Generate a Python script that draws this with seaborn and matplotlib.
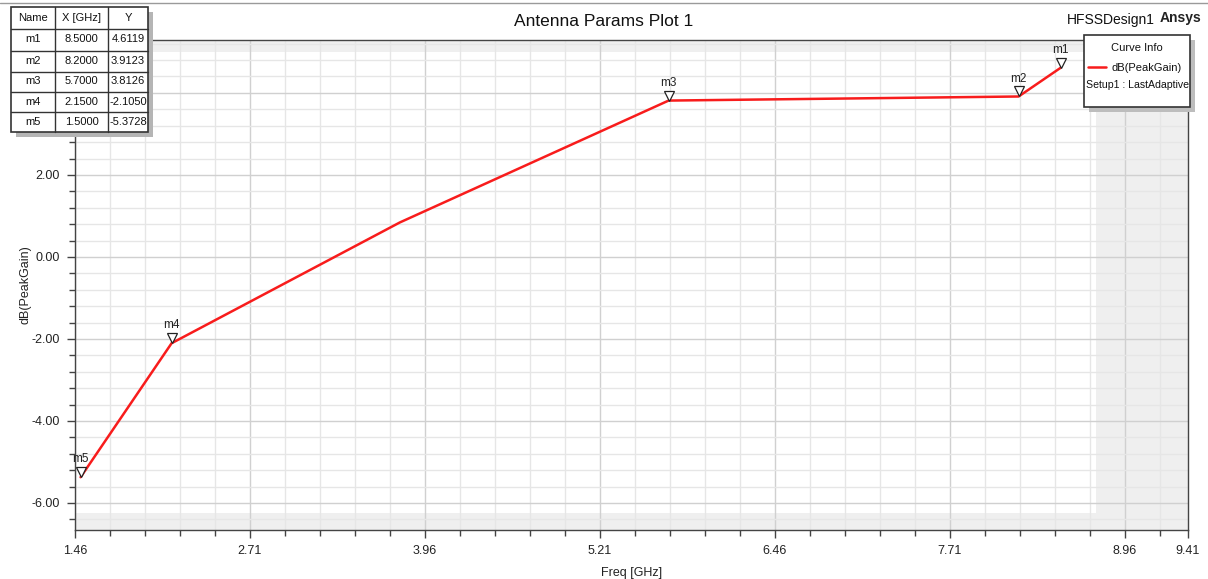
import numpy as np
import pandas as pd
import matplotlib
matplotlib.use("Agg")
import matplotlib.pyplot as plt
import matplotlib.transforms as mtransforms
from matplotlib.patches import Rectangle
from matplotlib.lines import Line2D
import seaborn as sns

# Swept frequency points and peak gain of the antenna
freq_ghz = [1.50, 2.15, 3.78, 5.70, 8.20, 8.50]
peak_gain_db = [-5.3728, -2.1050, 0.84, 3.8126, 3.9123, 4.6119]

# Marker table entries
marker_names = ["m1", "m2", "m3", "m4", "m5"]
marker_x = [8.5000, 8.2000, 5.7000, 2.1500, 1.5000]
marker_y = [4.6119, 3.9123, 3.8126, -2.1050, -5.3728]

x_tick_values = [1.46, 2.71, 3.96, 5.21, 6.46, 7.71, 8.96, 9.41]
y_tick_values = [-6.0, -4.0, -2.0, 0.0, 2.0, 4.0]

sns.set_theme(style="white")
plt.rcParams["font.family"] = ["Liberation Sans", "DejaVu Sans"]

W, H = 1208, 579
fig = plt.figure(figsize=(W / 100, H / 100), dpi=100)
fig.patch.set_facecolor("white")


def fx(px):
    return px / W


def fy(py):
    return 1 - py / H


ax_l, ax_r, ax_t, ax_b = 75, 1188, 40, 530
ax = fig.add_axes([fx(ax_l), fy(ax_b), (ax_r - ax_l) / W, (ax_b - ax_t) / H])

xmin, xmax = 1.46, 9.41
ymin, ymax = -6.66, 5.29
ax.set_xlim(xmin, xmax)
ax.set_ylim(ymin, ymax)

# Shaded bands outside the swept region
band = "#efefef"
ax.axvspan(8.75, xmax, color=band, zorder=0.1, lw=0)
ax.axhspan(5.0, ymax, color=band, zorder=0.1, lw=0)
ax.axhspan(ymin, -6.25, color=band, zorder=0.1, lw=0)

# Grid: minor every 0.25 GHz / 0.4 dB, major every 1.25 GHz / 2 dB
for xv in np.arange(xmin, xmax + 1e-6, 0.25):
    major = abs(((xv - xmin) / 1.25) - round((xv - xmin) / 1.25)) < 1e-6
    ax.axvline(xv, color="#d0d0d0" if major else "#e6e6e6", lw=1.0, zorder=0.3)
for yv in np.arange(-6.4, 5.3, 0.4):
    major = abs(yv / 2 - round(yv / 2)) < 1e-6
    ax.axhline(yv, color="#d0d0d0" if major else "#e6e6e6", lw=1.0, zorder=0.3)

df = pd.DataFrame({"Freq": freq_ghz, "Gain": peak_gain_db})
sns.lineplot(data=df, x="Freq", y="Gain", ax=ax, color="#f81c1c", lw=1.8,
             zorder=3, legend=False)

# Marker triangles and names
tri_tf = mtransforms.offset_copy(ax.transData, fig=fig, x=0, y=3.6, units="points")
lab_tf = mtransforms.offset_copy(ax.transData, fig=fig, x=0, y=8.5, units="points")
for name, mx, my in zip(marker_names, marker_x, marker_y):
    ax.plot([mx], [my], marker="v", ms=7.2, mfc="white", mec="#222222", mew=0.9,
            transform=tri_tf, zorder=4, clip_on=False)
    ax.text(mx, my, name, transform=lab_tf, ha="center", va="bottom",
            fontsize=8.5, color="#222222", zorder=4)

# Ticks
ax.set_xticks(x_tick_values)
ax.set_xticklabels([f"{v:.2f}" for v in x_tick_values])
ax.set_xticks(np.arange(xmin, xmax + 1e-6, 0.25), minor=True)
ax.set_yticks(y_tick_values)
# the 4.00 label sits under the marker table
ax.set_yticklabels([f"{v:.2f}" if v < 4 else "" for v in y_tick_values])
ax.set_yticks(np.arange(-6.4, 5.3, 0.4), minor=True)
ax.tick_params(axis="both", which="major", direction="out", length=6, width=1,
               color="#444444", labelsize=9, labelcolor="#222222", pad=5)
ax.tick_params(axis="both", which="minor", direction="out", length=4, width=1,
               color="#444444")
ax.tick_params(axis="x", which="both", bottom=True)
ax.tick_params(axis="y", which="both", left=True)
for s in ax.spines.values():
    s.set_color("#444444")
    s.set_linewidth(1.0)
    s.set_visible(True)

ax.set_xlabel("Freq [GHz]", fontsize=9, color="#222222", labelpad=7)
ax.set_ylabel("dB(PeakGain)", fontsize=9, color="#222222", labelpad=0)

# Titles and header text
fig.add_artist(Line2D([0, 1], [fy(3), fy(3)], color="#9a9a9a", lw=1.0))
fig.text(fx(604), fy(22), "Antenna Params Plot 1", ha="center", va="center",
         fontsize=12.5, color="#111111")
fig.text(fx(1111), fy(20), "HFSSDesign1", ha="center", va="center",
         fontsize=10, color="#111111")
fig.text(fx(1181), fy(18), "Ansys", ha="center", va="center",
         fontsize=10, fontweight="bold", color="#222222")


def rect(x0, y0, x1, y1, **kw):
    r = Rectangle((fx(x0), fy(y1)), (x1 - x0) / W, (y1 - y0) / H,
                  transform=fig.transFigure, **kw)
    fig.add_artist(r)
    return r


# Marker table
tl, tt, tr, tb = 11, 7, 148, 132
rect(tl + 5, tt + 5, tr + 5, tb + 5, facecolor="#b5b5b5", edgecolor="none", zorder=5)
rect(tl, tt, tr, tb, facecolor="white", edgecolor="#333333", lw=1.2, zorder=6)
col_edges = [tl, 55, 108, tr]
row_edges = [tt, 28.5, 50.5, 71.5, 91.5, 112, tb]
for cx in col_edges[1:-1]:
    fig.add_artist(Line2D([fx(cx), fx(cx)], [fy(tt), fy(tb)], color="#333333",
                          lw=1.0, zorder=7))
for ry in row_edges[1:-1]:
    fig.add_artist(Line2D([fx(tl), fx(tr)], [fy(ry), fy(ry)], color="#333333",
                          lw=1.0, zorder=7))
headers = ["Name", "X [GHz]", "Y"]
rows = [[n, f"{x:.4f}", f"{y:.4f}"] for n, x, y in zip(marker_names, marker_x, marker_y)]
for r_i, cells in enumerate([headers] + rows):
    yc = (row_edges[r_i] + row_edges[r_i + 1]) / 2
    for c_i, txt in enumerate(cells):
        xc = (col_edges[c_i] + col_edges[c_i + 1]) / 2
        fig.text(fx(xc), fy(yc), txt, ha="center", va="center", fontsize=8,
                 color="#111111", zorder=8)

# Curve info box
ll, lt, lr, lb = 1084, 35, 1190, 107
rect(ll + 5, lt + 5, lr + 5, lb + 5, facecolor="#bdbdbd", edgecolor="none", zorder=5)
rect(ll, lt, lr, lb, facecolor="white", edgecolor="#333333", lw=1.2, zorder=6)
fig.text(fx(1137), fy(48), "Curve Info", ha="center", va="center", fontsize=8,
         color="#111111", zorder=8)
fig.add_artist(Line2D([fx(1088), fx(1106)], [fy(67), fy(67)], color="#f81c1c",
                      lw=1.8, zorder=8))
fig.text(fx(1147), fy(68), "dB(PeakGain)", ha="center", va="center", fontsize=8,
         color="#111111", zorder=8)
fig.text(fx(1137), fy(85), "Setup1 : LastAdaptive", ha="center", va="center",
         fontsize=7.6, color="#111111", zorder=8)

fig.savefig("out.png", dpi=100)
